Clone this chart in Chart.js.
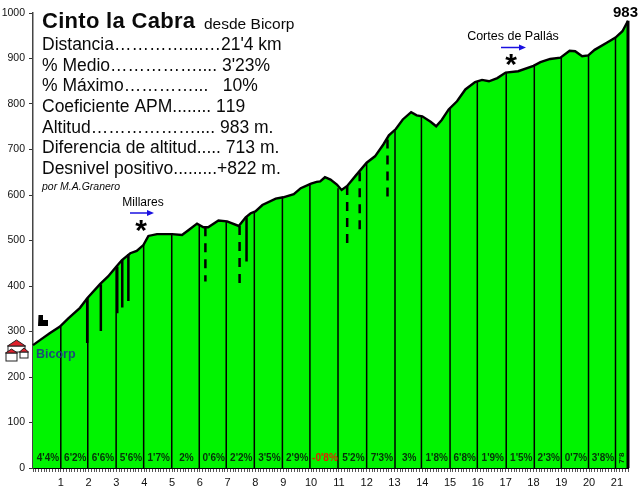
<!DOCTYPE html>
<html>
<head>
<meta charset="utf-8">
<title>Cinto la Cabra</title>
<script src="https://cdn.jsdelivr.net/npm/chart.js@4"></script>
<style>
  html, body { margin: 0; padding: 0; background: #fff; }
  canvas { display: block; }
</style>
</head>
<body>
<canvas id="profile-chart" width="640" height="491"></canvas>
<script>
// --Altitude profile-- //
const profileKm = [0, 0.25, 0.6, 0.97, 1.27, 1.69, 1.95, 2.41, 2.7, 3.0, 3.2, 3.5, 3.73, 3.97, 4.15, 4.46, 5.0, 5.36, 5.6, 5.9, 6.13, 6.3, 6.67, 6.98, 7.4, 7.65, 7.83, 8.0, 8.25, 8.73, 9.0, 9.38, 9.63, 10.0, 10.2, 10.33, 10.5, 10.7, 10.93, 11.1, 11.3, 11.6, 12.0, 12.3, 12.6, 12.8, 13.05, 13.3, 13.6, 13.8, 14.0, 14.3, 14.5, 14.7, 14.95, 15.25, 15.55, 15.9, 16.15, 16.4, 16.7, 17.0, 17.45, 18.0, 18.25, 18.6, 18.97, 19.3, 19.5, 19.75, 19.97, 20.2, 20.65, 20.95, 21.2, 21.4];
const profileAlt = [270, 281, 296, 311, 329, 352, 373, 404, 421, 443, 457, 472, 477, 490, 510, 514, 514, 512, 523, 537, 529, 529, 544, 542, 532, 551, 560, 564, 578, 592, 595, 602, 615, 625, 629, 630, 639, 634, 623, 611, 620, 642, 671, 685, 711, 731, 745, 766, 782, 775, 773, 761, 751, 765, 788, 806, 832, 848, 853, 850, 857, 869, 872, 884, 892, 899, 902, 917, 916, 905, 907, 919, 935, 946, 960, 983];

// kilometre lines
const kmLineAt = [1.0, 1.97, 2.99, 3.98, 4.99, 5.98, 6.95, 7.96, 8.97, 9.96, 10.97, 12.0, 13.02, 13.97, 15.0, 15.98, 17.02, 18.03, 19.0, 19.98, 20.95];
const kmLineTop = [311, 376, 443, 492, 514, 532, 542, 564, 595, 625, 615, 671, 742, 773, 792, 850, 869, 884, 902, 908, 947];
const gradeLabels = ["4'4%", "6'2%", "6'6%", "5'6%", "1'7%", "2%", "0'6%", "2'2%", "3'5%", "2'9%", "-0'8%", "5'2%", "7'3%", "3%", "1'8%", "6'8%", "1'9%", "1'5%", "2'3%", "0'7%", "3'8%", "7'8"];

// short thick lines under the profile
const solidKm = [1.95, 2.44, 3.03, 3.21, 3.43, 7.68];
const solidTop = [373, 404, 443, 457, 470, 551];
const solidBottom = [275, 301, 340, 353, 367, 454];
const dashedKm = [6.2, 7.43, 11.3, 11.75, 12.75];
const dashedTop = [529, 532, 620, 650, 722];
const dashedBottom = [410, 400, 480, 512, 590];

const summitKm = 21.4;
const summitAlt = 983;
const yTicksStep = 100;

const titleMain = 'Cinto la Cabra';
const titleSub = 'desde Bicorp';
const statLines = [
  "Distancia…………....…21'4 km",
  "% Medio…………….... 3'23%",
  "% Máximo…………...   10%",
  "Coeficiente APM........ 119",
  "Altitud……………….... 983 m.",
  "Diferencia de altitud..... 713 m.",
  "Desnivel positivo.........+822 m."
];
const authorLine = 'por M.A.Granero';

const dropLine = (km, top, bottom, width, dash) => ({
  data: [{ x: km, y: top }, { x: km, y: bottom }],
  order: 0,
  borderColor: '#000',
  borderWidth: width,
  borderDash: dash || [],
  pointRadius: 0,
  fill: false,
  clip: false
});

const datasets = [{
  data: profileKm.map((km, i) => ({ x: km, y: profileAlt[i] })),
  order: 1,
  borderColor: '#000',
  borderWidth: 2.4,
  backgroundColor: '#00f400',
  fill: 'origin',
  pointRadius: 0,
  tension: 0,
  clip: false
}];
kmLineAt.forEach((km, i) => datasets.push(dropLine(km, kmLineTop[i], 0, 1.5)));
solidKm.forEach((km, i) => datasets.push(dropLine(km, solidTop[i], solidBottom[i], 2.5)));
dashedKm.forEach((km, i) => datasets.push(dropLine(km, dashedTop[i], dashedBottom[i], 2.5, [9, 7])));
datasets.push(dropLine(summitKm, summitAlt, 0, 3));

const drawArrow = (ctx, x1, x2, y) => {
  ctx.strokeStyle = '#1a10e0';
  ctx.fillStyle = '#1a10e0';
  ctx.lineWidth = 1.5;
  ctx.beginPath();
  ctx.moveTo(x1, y);
  ctx.lineTo(x2 - 6, y);
  ctx.stroke();
  ctx.beginPath();
  ctx.moveTo(x2 - 7, y - 3);
  ctx.lineTo(x2, y);
  ctx.lineTo(x2 - 7, y + 3);
  ctx.fill();
};

// walls, then a red roof on top
const drawHouse = (ctx, x, y, w, h, roof) => {
  ctx.fillStyle = '#fff';
  ctx.strokeStyle = '#222';
  ctx.lineWidth = 1;
  ctx.fillRect(x, y, w, h);
  ctx.strokeRect(x, y, w, h);
  ctx.fillStyle = '#e0202c';
  ctx.beginPath();
  ctx.moveTo(x - 0.5, y);
  ctx.lineTo(x + w / 2, y - roof);
  ctx.lineTo(x + w + 0.5, y);
  ctx.closePath();
  ctx.fill();
  ctx.stroke();
};

// everything that is not a mark: texts and small icons
const notesPlugin = {
  id: 'notes',
  afterDatasetsDraw(chart) {
    const ctx = chart.ctx;
    const xs = chart.scales.x;
    const ys = chart.scales.y;
    ctx.save();
    ctx.textBaseline = 'middle';
    ctx.textAlign = 'left';
    ctx.fontKerning = 'none';

    ctx.fillStyle = '#0a0a0a';
    ctx.font = 'bold 22px "Liberation Sans"';
    ctx.letterSpacing = '0.3px';
    ctx.fillText(titleMain, 42, 22);
    ctx.letterSpacing = '0px';
    ctx.font = '15.5px "Liberation Sans"';
    ctx.fillText(titleSub, 204, 25);

    ctx.font = '17.5px "Liberation Sans"';
    statLines.forEach((line, i) => ctx.fillText(line, 42, 45 + i * 20.7));
    ctx.font = 'italic 10.5px "Liberation Sans"';
    ctx.fillText(authorLine, 42, 187);

    // grades, centred in their kilometre
    const edges = [0].concat(kmLineAt, [summitKm]);
    ctx.textAlign = 'center';
    ctx.font = 'bold 10px "Liberation Sans"';
    gradeLabels.forEach((label, i) => {
      const mid = xs.getPixelForValue((edges[i] + edges[i + 1]) / 2);
      ctx.fillStyle = label.startsWith('-') ? '#e02000' : '#06300a';
      if (i === gradeLabels.length - 1) {
        ctx.save();
        ctx.translate(mid, ys.getPixelForValue(22));
        ctx.rotate(-Math.PI / 2);
        ctx.font = 'bold 8px "Liberation Sans"';
        ctx.fillText(label, 0, 0);
        ctx.restore();
      } else {
        ctx.fillText(label, mid + 1, ys.getPixelForValue(21));
      }
    });

    // summit
    ctx.fillStyle = '#000';
    ctx.font = 'bold 15px "Liberation Sans"';
    ctx.textAlign = 'right';
    ctx.fillText(String(summitAlt), 638, 13);

    // passes
    ctx.textAlign = 'center';
    ctx.font = '12px "Liberation Sans"';
    ctx.fillText('Millares', 143, 203);
    ctx.font = '12.5px "Liberation Sans"';
    ctx.fillText('Cortes de Pallás', 513, 37);
    ctx.font = 'bold 30px "Liberation Sans"';
    ctx.fillText('*', 141, 232);
    ctx.fillText('*', 511, 66);
    drawArrow(ctx, 130, 154, 213);
    drawArrow(ctx, 501, 526, 47.5);

    // village
    drawHouse(ctx, 8, 346, 17, 6, 6);
    drawHouse(ctx, 6, 353, 11, 8, 4);
    drawHouse(ctx, 20, 352, 8, 6, 4);
    ctx.fillStyle = '#1b4a78';
    ctx.font = 'bold 12.5px "Liberation Sans"';
    ctx.textAlign = 'left';
    ctx.fillText('Bicorp', 36, 355);

    // tower
    ctx.fillStyle = '#000';
    ctx.beginPath();
    ctx.moveTo(38, 326);
    ctx.lineTo(38.5, 315);
    ctx.lineTo(43, 315);
    ctx.lineTo(43, 320);
    ctx.lineTo(48, 320);
    ctx.lineTo(48, 326);
    ctx.fill();
    ctx.restore();
  }
};

new Chart(document.getElementById('profile-chart'), {
  type: 'line',
  data: { datasets: datasets },
  plugins: [notesPlugin],
  options: {
    responsive: false,
    animation: false,
    layout: { padding: { top: 13, right: 12, bottom: 0, left: 0 } },
    plugins: {
      legend: { display: false },
      tooltip: { enabled: false },
      title: { display: false }
    },
    scales: {
      x: {
        type: 'linear',
        min: 0,
        max: summitKm,
        afterFit: (scale) => { scale.height = 23; },
        // tick marks every 100 m, only whole km get a label
        afterBuildTicks: (scale) => {
          scale.ticks = Array.from({ length: 215 }, (_, i) => ({ value: i / 10 }));
        },
        border: { color: '#000', width: 2 },
        grid: { drawOnChartArea: false, tickLength: 4, tickColor: '#555' },
        ticks: {
          autoSkip: false,
          maxRotation: 0,
          padding: 4,
          color: '#111',
          font: { family: '"Liberation Sans"', size: 11 },
          callback: (value) => {
            const whole = Math.round(value);
            return Math.abs(value - whole) < 0.001 && whole > 0 ? String(whole) : '';
          }
        }
      },
      y: {
        min: 0,
        max: 1000,
        afterFit: (scale) => { scale.width = 33; },
        border: { color: '#444', width: 1.5 },
        grid: { drawOnChartArea: false, tickLength: 4, tickColor: '#333' },
        ticks: {
          stepSize: yTicksStep,
          padding: 4,
          color: '#111',
          font: { family: '"Liberation Sans"', size: 10.5 },
          callback: (value) => String(value)
        }
      }
    }
  }
});
</script>
</body>
</html>
